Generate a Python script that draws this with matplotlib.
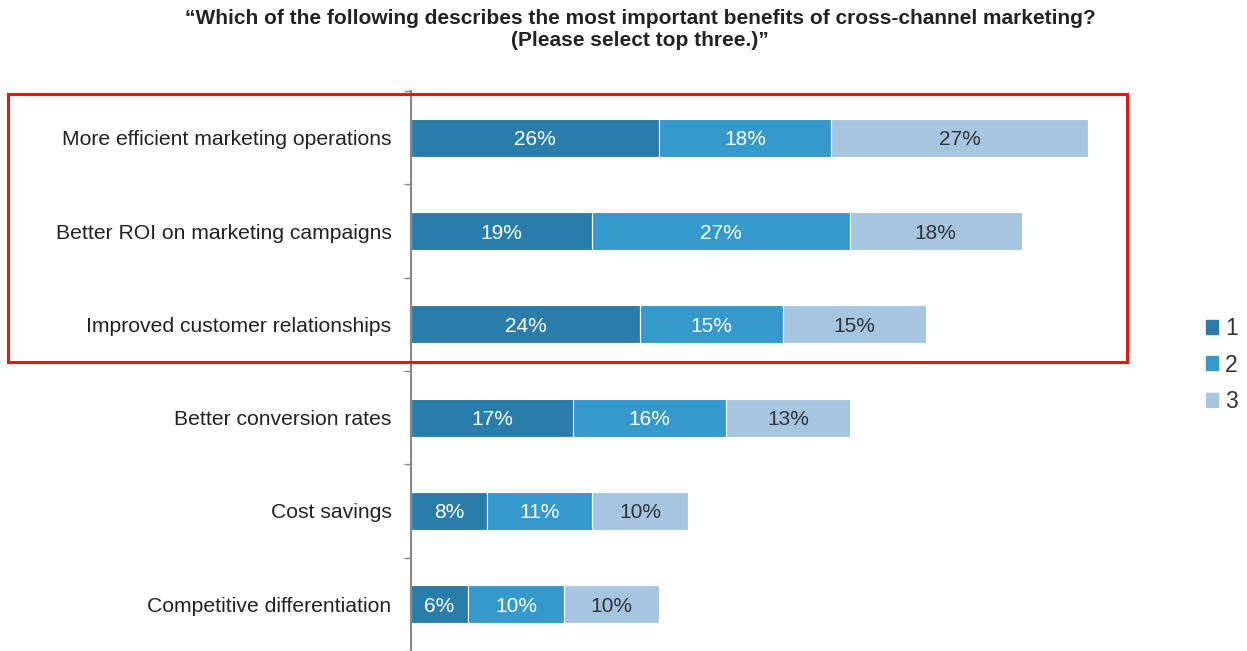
import numpy as np
import matplotlib.pyplot as plt
from matplotlib.patches import Rectangle, Patch

plt.rcParams['font.family'] = ['Liberation Sans', 'DejaVu Sans']

# survey answers, top to bottom
categories = ['More efficient marketing operations',
              'Better ROI on marketing campaigns',
              'Improved customer relationships',
              'Better conversion rates',
              'Cost savings',
              'Competitive differentiation']
rank1 = [26, 19, 24, 17, 8, 6]
rank2 = [18, 27, 15, 16, 11, 10]
rank3 = [27, 18, 15, 13, 10, 10]
series_names = ['1', '2', '3']

colors = ['#2a7daa', '#3599cc', '#a6c5e0']
text_colors = ['white', 'white', '#333333']

W, H = 1247, 651
fig = plt.figure(figsize=(W / 100, H / 100), dpi=100)
ax = fig.add_axes([411 / W, 0, (1130 - 411) / W, (651 - 91) / H])

y = np.arange(len(categories))
left = np.zeros(len(categories))
for vals, col, tc, name in zip([rank1, rank2, rank3], colors, text_colors, series_names):
    vals = np.array(vals)
    bars = ax.barh(y, vals, left=left, height=0.41, color=col,
                   edgecolor='white', linewidth=0.8, label=name)
    for b, v in zip(bars, vals):
        ax.text(b.get_x() + b.get_width() / 2, b.get_y() + b.get_height() / 2,
                f'{v}%', ha='center', va='center_baseline', color=tc, fontsize=15)
    left += vals

ax.set_xlim(0, (1130 - 411) / 9.54)
ax.set_ylim(len(categories) - 0.5, -0.5)
ax.set_yticks(y)
ax.set_yticklabels(categories, fontsize=15.2, color='#222222')
ax.set_yticks(np.arange(len(categories) + 1) - 0.5, minor=True)
ax.tick_params(axis='y', which='major', length=0, pad=14)
ax.tick_params(axis='y', which='minor', length=5, color='#888888', width=1)
ax.set_xticks([])
for s in ['top', 'right', 'bottom']:
    ax.spines[s].set_visible(False)
ax.spines['left'].set_color('#888888')
ax.spines['left'].set_linewidth(1.5)

fig.text(640 / W, 1 - 29 / H,
         '\u201cWhich of the following describes the most important benefits of cross-channel marketing?\n(Please select top three.)\u201d',
         ha='center', va='center', fontsize=15, fontweight='bold', color='#222222',
         linespacing=1.2)

handles = [Patch(color=c, label=n) for c, n in zip(colors, series_names)]
fig.legend(handles=handles, loc='center left', bbox_to_anchor=(1185 / W, 1 - 365 / H),
           frameon=False, fontsize=16.5, handlelength=0.55, handleheight=0.55,
           handletextpad=0.3, labelspacing=0.6, labelcolor='#333333')

# highlight box around the top three answers
fig.patches.append(Rectangle((8 / W, 1 - 362 / H), (1127 - 8) / W, (362 - 94) / H,
                             transform=fig.transFigure, fill=False,
                             edgecolor='#ee1111', linewidth=2.2))

fig.savefig('out.png', dpi=100)
